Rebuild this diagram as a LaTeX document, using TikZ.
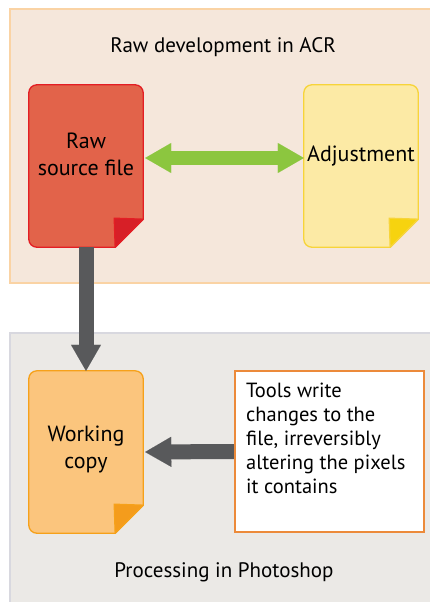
\documentclass[tikz,border=0pt]{standalone}
\usepackage{fontspec}
\setmainfont{PT Sans}
\usetikzlibrary{arrows.meta}
\definecolor{acrfill}{HTML}{F5E7DB}
\definecolor{acrline}{HTML}{FAD3A4}
\definecolor{psfill}{HTML}{EBE9E6}
\definecolor{psline}{HTML}{D8D8DF}
\definecolor{rawfill}{HTML}{E2634A}
\definecolor{rawline}{HTML}{E31E24}
\definecolor{rawfold}{HTML}{D71F27}
\definecolor{adjfill}{HTML}{FCEAA5}
\definecolor{adjline}{HTML}{F7D43A}
\definecolor{adjfold}{HTML}{F6D30F}
\definecolor{workfill}{HTML}{FBC57D}
\definecolor{workline}{HTML}{F6A11A}
\definecolor{workfold}{HTML}{F49C1C}
\definecolor{noteline}{HTML}{EC8A3A}
\definecolor{linkgreen}{HTML}{8CC63F}
\definecolor{linkgray}{HTML}{58595B}
\tikzset{
  zone/.style={rectangle,line width=1.6pt,minimum width=423pt,inner sep=0pt,anchor=north west},
  sheet/.style={rectangle,minimum width=114pt,minimum height=162pt,inner sep=0pt},
  sheetline/.style={line width=1.3pt},
  zonetext/.style={font=\fontsize{21}{25}\selectfont,inner sep=0pt},
  doctext/.style={font=\fontsize{22}{26.5}\selectfont,align=center,inner sep=0pt},
  notebox/.style={draw=noteline,fill=white,line width=2.2pt,minimum width=189pt,minimum height=161pt,inner sep=0pt},
  notetext/.style={font=\fontsize{20.5}{24}\selectfont,align=left,inner sep=0pt,anchor=north west},
  grayarrow/.style={draw=linkgray,line width=15pt,->},
  greenarrow/.style={draw=linkgreen,line width=14pt,<->}
}

\begin{document}
\begin{tikzpicture}[x=1pt,y=1pt,>={Triangle[width=30pt,length=26pt,line width=0.01pt]}]
  \useasboundingbox (0,0) rectangle (429,-602);
  % the two working areas
  \node[zone,draw=acrline,fill=acrfill,minimum height=274pt] (acr) at (9,-8) {};
  \node[zone,draw=psline,fill=psfill,minimum height=290pt] (ps) at (9,-332) {};
  \node[zonetext] (acrtitle) at (223,-47.5) {Raw development in ACR};
  \node[zonetext] (pstitle) at (224,-572.5) {Processing in Photoshop};

  \node[sheet] (raw) at (86,-166) {};
  \node[sheet] (adjust) at (361,-166) {};
  \node[sheet] (work) at (86,-452) {};
  \node[notebox] (note) at (329.5,-451.5) {};

  % sheets with folded corner
  \foreach \n/\fc/\lc/\kc in {raw/rawfill/rawline/rawfold,adjust/adjfill/adjline/adjfold,work/workfill/workline/workfold}{
    \filldraw[sheetline,fill=\fc,draw=\lc] ([yshift=28pt]\n.south east) -- ([yshift=-8pt]\n.north east)
      arc[start angle=0,end angle=90,radius=8pt] -- ([xshift=8pt]\n.north west)
      arc[start angle=90,end angle=180,radius=8pt] -- ([yshift=8pt]\n.south west)
      arc[start angle=180,end angle=270,radius=8pt] -- ([xshift=-28pt]\n.south east) -- cycle;
    \filldraw[sheetline,fill=\kc,draw=\lc,line join=round] ([xshift=-28pt]\n.south east)
      -- ([xshift=-29pt,yshift=29pt]\n.south east) -- ([yshift=28pt]\n.south east) -- cycle;
  }

  \node[doctext] (rawtext) at (86,-154.5) {Raw\\source file};
  \node[doctext] (adjusttext) at (361,-156.5) {Adjustment};
  \node[doctext] (worktext) at (86,-449.5) {Working\\copy};
  \node[notetext] (notetext) at (246,-383) {Tools write\\changes to the\\file, irreversibly\\altering the pixels\\it contains};

  \draw[greenarrow] ([xshift=2pt,yshift=8pt]raw.east) -- ([yshift=8pt]adjust.west);
  \draw[grayarrow] (raw.south) -- (work.north);
  \draw[grayarrow] (note.west) -- ([xshift=2pt]work.east);
\end{tikzpicture}
\end{document}
